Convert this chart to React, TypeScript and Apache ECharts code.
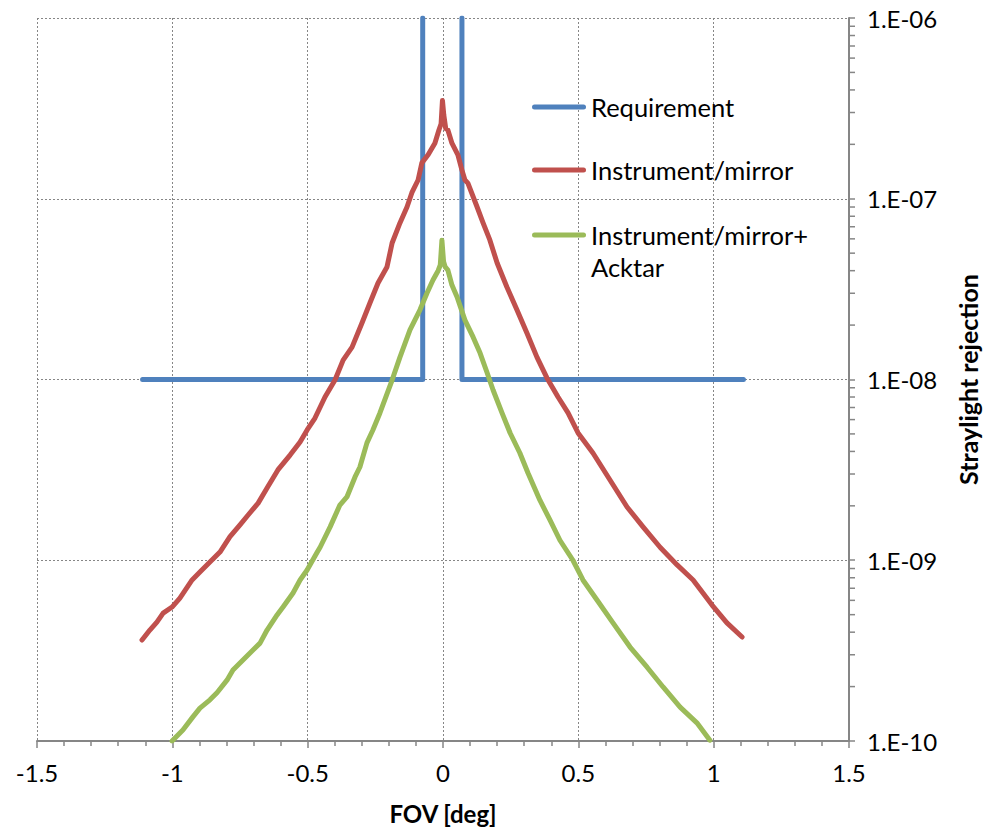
import React, { useEffect, useRef } from "react";
import * as echarts from "echarts";

const requirementX = [-1.11, -0.075, -0.075, null, 0.07, 0.07, 1.11];
const requirementY = [1e-8, 1e-8, 1e-6, null, 1e-6, 1e-8, 1e-8];

const mirrorX = [
  -1.112, -1.083, -1.057, -1.034, -1.001, -0.972, -0.927, -0.898, -0.861, -0.824,
  -0.787, -0.75, -0.72, -0.683, -0.65, -0.61, -0.565, -0.528, -0.502, -0.473,
  -0.436, -0.399, -0.369, -0.336, -0.299, -0.27, -0.24, -0.207, -0.188, -0.159,
  -0.133, -0.115, -0.092, -0.078, -0.055, -0.03, -0.015, -0.007, -0.002, 0.003,
  0.01, 0.018, 0.033, 0.055, 0.07, 0.081, 0.092, 0.126, 0.148, 0.173,
  0.2, 0.236, 0.273, 0.31, 0.347, 0.384, 0.425, 0.462, 0.499, 0.554,
  0.617, 0.68, 0.739, 0.802, 0.865, 0.924, 0.994, 1.049, 1.105,
];
const mirrorY = [
  3.62e-10, 4.11e-10, 4.55e-10, 5.1e-10, 5.51e-10, 6.18e-10, 7.78e-10, 8.61e-10, 9.77e-10, 1.11e-9,
  1.35e-9, 1.57e-9, 1.78e-9, 2.07e-9, 2.51e-9, 3.16e-9, 3.82e-9, 4.51e-9, 5.26e-9, 6.12e-9,
  8.0e-9, 9.93e-9, 1.28e-8, 1.51e-8, 2.06e-8, 2.65e-8, 3.42e-8, 4.19e-8, 5.69e-8, 7.35e-8,
  9.0e-8, 1.08e-7, 1.27e-7, 1.58e-7, 1.75e-7, 2.03e-7, 2.4e-7, 2.6e-7, 3.5e-7, 2.9e-7,
  2.45e-7, 2.4e-7, 2.03e-7, 1.75e-7, 1.44e-7, 1.27e-7, 1.22e-7, 9.0e-8, 7.35e-8, 5.92e-8,
  4.41e-8, 3.25e-8, 2.43e-8, 1.81e-8, 1.33e-8, 1.02e-8, 8.0e-9, 6.53e-9, 5.06e-9, 3.92e-9,
  2.78e-9, 1.97e-9, 1.53e-9, 1.18e-9, 9.42e-10, 7.78e-10, 5.65e-10, 4.5e-10, 3.76e-10,
];

const acktarX = [
  -1.001, -0.961, -0.924, -0.898, -0.861, -0.835, -0.798, -0.776, -0.739, -0.713,
  -0.676, -0.65, -0.613, -0.591, -0.554, -0.528, -0.502, -0.466, -0.454, -0.417,
  -0.381, -0.355, -0.325, -0.307, -0.281, -0.259, -0.233, -0.188, -0.159, -0.122,
  -0.085, -0.059, -0.037, -0.018, -0.01, -0.004, 0.002, 0.008, 0.018, 0.033,
  0.052, 0.081, 0.111, 0.137, 0.163, 0.185, 0.218, 0.248, 0.284, 0.314,
  0.358, 0.395, 0.432, 0.48, 0.517, 0.569, 0.628, 0.691, 0.754, 0.813,
  0.876, 0.938, 0.986,
];
const acktarY = [
  1.0e-10, 1.15e-10, 1.36e-10, 1.52e-10, 1.69e-10, 1.85e-10, 2.17e-10, 2.47e-10, 2.81e-10, 3.07e-10,
  3.48e-10, 4.11e-10, 4.98e-10, 5.51e-10, 6.59e-10, 7.78e-10, 8.83e-10, 1.1e-9, 1.18e-9, 1.53e-9,
  2.02e-9, 2.24e-9, 2.89e-9, 3.28e-9, 4.46e-9, 5.26e-9, 6.53e-9, 9.93e-9, 1.33e-8, 1.88e-8,
  2.43e-8, 3.01e-8, 3.55e-8, 4.0e-8, 4.3e-8, 5.9e-8, 4.5e-8, 4.2e-8, 4.03e-8, 3.33e-8,
  2.86e-8, 2.13e-8, 1.72e-8, 1.4e-8, 1.09e-8, 8.75e-9, 6.53e-9, 5.06e-9, 3.92e-9, 3.04e-9,
  2.15e-9, 1.67e-9, 1.29e-9, 1.0e-9, 7.78e-10, 6.03e-10, 4.5e-10, 3.31e-10, 2.56e-10, 1.99e-10,
  1.54e-10, 1.26e-10, 1.01e-10,
];

const xMin = -1.5;
const xMax = 1.5;
const xInterval = 0.5;
const yMin = 1e-10;
const yMax = 1e-6;
const yMinorMantissas = [2, 3, 4, 5, 6, 7, 8, 9];
const yMinorDecades = [1e-10, 1e-9, 1e-8, 1e-7];

const seriesNames = ["Requirement", "Instrument/mirror", "Instrument/mirror+ Acktar"];
const seriesColors = ["#4F81BD", "#C0504D", "#9BBB59"];

const FONT = "Lato, Carlito, Calibri, sans-serif";
const AXIS_GRAY = "#868686";

function zip(xs: (number | null)[], ys: (number | null)[]) {
  return xs.map((x, i) => (x === null || ys[i] === null ? ["-", "-"] : [x, ys[i]]));
}

const capsule = "path://M2.5,0 H51.5 A2.5,2.5 0 0 1 51.5,5 H2.5 A2.5,2.5 0 0 1 2.5,0 Z";

export default function App() {
  const ref = useRef<HTMLDivElement>(null);
  useEffect(() => {
    if (!ref.current) return;
    const chart = echarts.init(ref.current, null, { renderer: "svg" });
    const minorTicks: number[][] = [];
    yMinorDecades.forEach((d) => yMinorMantissas.forEach((m) => minorTicks.push([xMax, m * d])));

    const option: any = {
      animation: false,
      backgroundColor: "#fff",
      grid: { left: 37, right: 139, top: 18, bottom: 90, containLabel: false },
      legend: [
        {
          left: 532,
          top: 92,
          orient: "vertical",
          padding: 0,
          itemGap: 33,
          itemWidth: 54,
          itemHeight: 5,
          icon: capsule,
          data: [seriesNames[0], seriesNames[1]],
          textStyle: { fontFamily: FONT, fontSize: 25.5, color: "#000", lineHeight: 30 },
          selectedMode: false,
        },
        {
          left: 532,
          top: 187,
          orient: "vertical",
          padding: 0,
          itemWidth: 54,
          itemHeight: 5,
          icon: capsule,
          data: [seriesNames[2]],
          formatter: () => " \nInstrument/mirror+\nAcktar",
          textStyle: {
            fontFamily: FONT,
            fontSize: 25.5,
            color: "#000",
            lineHeight: 32,
          },
          selectedMode: false,
        },
      ],
      xAxis: {
        type: "value",
        min: xMin,
        max: xMax,
        interval: xInterval,
        name: "FOV [deg]",
        nameLocation: "middle",
        nameGap: 60,
        nameTextStyle: { fontFamily: FONT, fontSize: 24, fontWeight: "bold", color: "#000" },
        axisLine: { onZero: false, lineStyle: { color: AXIS_GRAY, width: 2 } },
        axisTick: { show: true, length: 7, lineStyle: { color: AXIS_GRAY, width: 1.5 } },
        minorTick: { show: true, splitNumber: 5, length: 5, lineStyle: { color: AXIS_GRAY, width: 1.5 } },
        axisLabel: { fontFamily: FONT, fontSize: 24, color: "#000", margin: 19 },
        splitLine: { show: true, lineStyle: { color: AXIS_GRAY, width: 1, type: [2, 2] } },
      },
      yAxis: {
        type: "log",
        logBase: 10,
        min: yMin,
        max: yMax,
        position: "right",
        name: "Straylight rejection",
        nameLocation: "middle",
        nameGap: 106,
        nameTextStyle: { fontFamily: FONT, fontSize: 25, fontWeight: "bold", color: "#000" },
        axisLine: { show: true, onZero: false, lineStyle: { color: AXIS_GRAY, width: 2 } },
        axisTick: { show: true, length: 6, lineStyle: { color: AXIS_GRAY, width: 1.5 } },
        axisLabel: {
          fontFamily: FONT,
          fontSize: 24,
          color: "#000",
          margin: 18,
          formatter: (v: number) => {
            const e = Math.round(Math.log10(v));
            return "1.E-" + String(-e).padStart(2, "0");
          },
        },
        splitLine: { show: true, lineStyle: { color: AXIS_GRAY, width: 1, type: [2, 2] } },
      },
      series: [
        {
          name: seriesNames[0],
          type: "line",
          data: zip(requirementX, requirementY),
          showSymbol: false,
          symbol: "none",
          connectNulls: false,
          color: seriesColors[0],
          lineStyle: { width: 5, color: seriesColors[0], cap: "round", join: "round" },
          z: 3,
        },
        {
          name: seriesNames[1],
          type: "line",
          data: zip(mirrorX, mirrorY),
          showSymbol: false,
          symbol: "none",
          color: seriesColors[1],
          lineStyle: { width: 5, color: seriesColors[1], cap: "round", join: "round" },
          z: 4,
        },
        {
          name: seriesNames[2],
          type: "line",
          data: zip(acktarX, acktarY),
          showSymbol: false,
          symbol: "none",
          color: seriesColors[2],
          lineStyle: { width: 5, color: seriesColors[2], cap: "round", join: "round" },
          z: 5,
        },
        {
          name: "minorYTicks",
          type: "custom",
          silent: true,
          clip: false,
          data: minorTicks,
          encode: { x: 0, y: 1 },
          renderItem: (params: any, api: any) => {
            const p = api.coord([api.value(0), api.value(1)]);
            return {
              type: "line",
              shape: { x1: p[0], y1: p[1], x2: p[0] + 6, y2: p[1] },
              style: { stroke: AXIS_GRAY, lineWidth: 1.5 },
            };
          },
          z: 2,
        },
      ],
    };
    chart.setOption(option);
    return () => chart.dispose();
  }, []);
  return (
    <div
      ref={ref}
      style={{ position: "fixed", left: 0, top: 0, width: 988, height: 831, background: "#fff" }}
    />
  );
}
